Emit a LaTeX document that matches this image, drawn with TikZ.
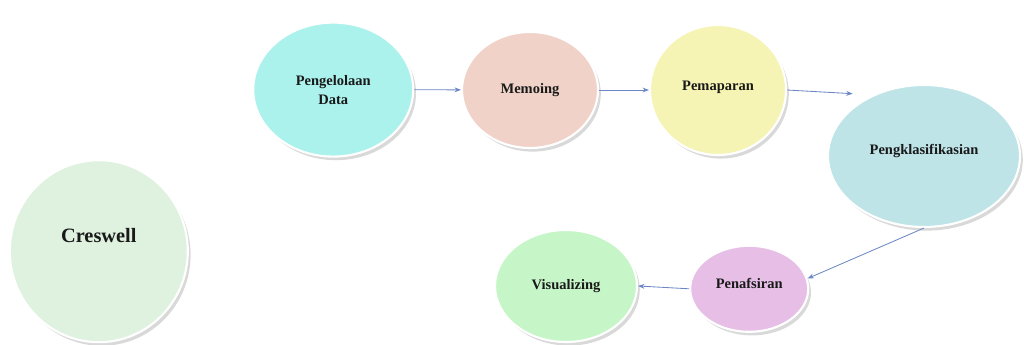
\documentclass[tikz,border=0pt]{standalone}
\usepackage{fontspec}
\setmainfont{Liberation Serif}
\usepackage{xcolor}
\usetikzlibrary{arrows.meta, calc, shapes.geometric, shadows}

\definecolor{creswellFill}{HTML}{DFF2DF}
\definecolor{kelolaFill}{HTML}{ACF2EC}
\definecolor{memoFill}{HTML}{F0D2C8}
\definecolor{paparFill}{HTML}{F5F4B4}
\definecolor{klasFill}{HTML}{BEE4E8}
\definecolor{tafsirFill}{HTML}{E6BEE6}
\definecolor{visualFill}{HTML}{C6F6C8}
\definecolor{flowBlue}{HTML}{6C87C4}

\begin{document}
\begin{tikzpicture}[>={Stealth[length=1.6mm, width=1.2mm]}, every node/.style={font=\fontsize{10.3}{11.5}\selectfont\bfseries, text=black!90},
  bubble/.style={ellipse, draw=white, line width=1.5pt, align=center, inner sep=0pt, drop shadow={shadow xshift=0.7mm, shadow yshift=-0.9mm, opacity=0.3}},
  flow/.style={->, draw=flowBlue, line width=0.6pt}]
  \useasboundingbox (0,0) rectangle (25.6,8.6);
  \node[bubble, fill=creswellFill, minimum width=4.45cm, minimum height=4.55cm, font=\fontsize{14.5}{16}\selectfont\bfseries] (creswell) at (2.47,2.32) {\raisebox{0.8cm}{Creswell}};
  \node[bubble, fill=kelolaFill, minimum width=4.0cm, minimum height=3.35cm] (kelola) at (8.33,6.36) {Pengelolaan\\[2pt]Data};
  \node[bubble, fill=memoFill, minimum width=3.4cm, minimum height=2.9cm] (memo) at (13.25,6.35) {Memoing};
  \node[bubble, fill=paparFill, minimum width=3.4cm, minimum height=3.25cm] (papar) at (17.95,6.35) {\raisebox{0.2cm}{Pemaparan}};
  \node[bubble, fill=klasFill, minimum width=4.8cm, minimum height=3.55cm] (klas) at (23.1,4.7) {\raisebox{0.35cm}{Pengklasifikasian}};
  \node[bubble, fill=tafsirFill, minimum width=2.95cm, minimum height=2.15cm] (tafsir) at (18.73,1.38) {\raisebox{0.25cm}{Penafsiran}};
  \node[bubble, fill=visualFill, minimum width=3.55cm, minimum height=2.8cm] (visual) at (14.15,1.45) {Visualizing};
  \draw[flow] (kelola) -- (memo);
  \draw[flow] (memo) -- (papar);
  \draw[flow, shorten >=5mm] (papar.east) -- (klas.130);
  \draw[flow] (klas.south) -- (tafsir.10);
  \draw[flow] (tafsir.west) -- (visual.east);
\end{tikzpicture}
\end{document}
